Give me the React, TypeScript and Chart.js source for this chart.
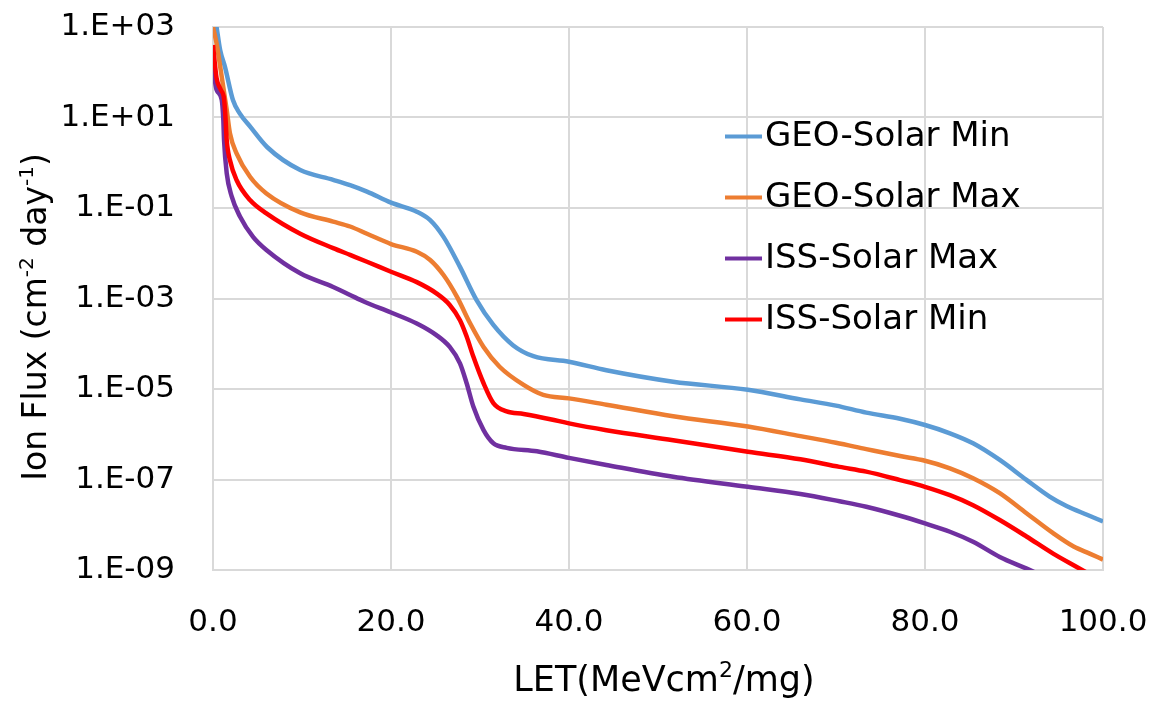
import React, { useEffect, useRef } from 'react';
import { Chart, registerables } from 'chart.js';

Chart.register(...registerables);

const FONT = '"DejaVu Sans", sans-serif';

// Series names and colours (legend order)
const SERIES_NAMES = ['GEO-Solar Min', 'GEO-Solar Max', 'ISS-Solar Max', 'ISS-Solar Min'];
const SERIES_COLORS = ['#5B9BD5', '#ED7D31', '#7030A0', '#FF0000'];

// Axis ticks
const X_TICKS = [0, 20, 40, 60, 80, 100];
const Y_TICK_EXPONENTS = [3, 1, -1, -3, -5, -7, -9];

// GEO-Solar Min
const X_GEO_MIN = [0, 0.4, 0.8, 1.35, 2.25, 3.0, 4.2, 6.1, 9.8, 13.5, 15.4, 17.3, 20, 22.9, 24.4, 25.9, 27.75, 29.6, 31.5, 33.7, 36, 40, 44.2, 51.7, 60.1, 66, 70, 73.4, 77.2, 80, 82.8, 85.4, 88.4, 91.4, 94, 95.9, 98.2, 100];
const Y_GEO_MIN = [3000, 1000, 310, 130, 24, 12.3, 6.2, 2.2, 0.69, 0.42, 0.32, 0.23, 0.131, 0.083, 0.054, 0.023, 0.005, 9.3e-4, 2.6e-4, 9.3e-5, 5.3e-5, 4.0e-5, 2.6e-5, 1.45e-5, 9.6e-6, 5.9e-6, 4.3e-6, 3.0e-6, 2.2e-6, 1.6e-6, 1.05e-6, 6.3e-7, 2.7e-7, 9.8e-8, 4.2e-8, 2.6e-8, 1.66e-8, 1.18e-8];

// GEO-Solar Max
const X_GEO_MAX = [0, 0.4, 0.98, 1.54, 1.9, 2.66, 4.16, 6, 9.8, 13.5, 15.4, 17.3, 20, 22.9, 24.4, 25.9, 27.4, 28.9, 30.4, 32.2, 34.9, 37.1, 40, 44.2, 51.7, 60.1, 66, 70, 73.4, 77.2, 80, 82.8, 85.4, 88.4, 91.4, 94.4, 96.7, 98.5, 100];
const Y_GEO_MAX = [1000, 435, 79, 14.7, 4.5, 1.6, 0.49, 0.21, 0.08, 0.05, 0.039, 0.027, 0.016, 0.0108, 0.0071, 0.0033, 0.0011, 2.8e-4, 8.5e-5, 3.1e-5, 1.23e-5, 7.4e-6, 6.2e-6, 4.5e-6, 2.5e-6, 1.48e-6, 9.1e-7, 6.5e-7, 4.7e-7, 3.3e-7, 2.6e-7, 1.77e-7, 1.07e-7, 5.0e-8, 1.8e-8, 6.5e-9, 3.3e-9, 2.3e-9, 1.7e-9];

// ISS-Solar Max
const X_ISS_MAX = [0, 0.4, 0.98, 1.16, 1.24, 1.54, 2.1, 3.03, 4.5, 6, 9.8, 13.5, 15.4, 17, 20, 22.9, 25.1, 26.6, 27.75, 28.5, 29.25, 30.4, 31.5, 33, 36.4, 40, 44.2, 51.7, 60.1, 66, 70.4, 73.4, 77.2, 80, 82.8, 85.4, 88.4, 92.2, 96, 100];
const Y_ISS_MAX = [130, 41, 24.5, 8.8, 3.2, 0.59, 0.18, 0.065, 0.023, 0.0118, 0.0036, 0.0018, 0.0012, 8.5e-4, 4.9e-4, 2.8e-4, 1.55e-4, 8.5e-5, 3.7e-5, 1.34e-5, 4.1e-6, 1.23e-6, 6.3e-7, 5.0e-7, 4.2e-7, 3.0e-7, 2.1e-7, 1.15e-7, 6.9e-8, 4.8e-8, 3.3e-8, 2.5e-8, 1.58e-8, 1.07e-8, 7.0e-9, 4.2e-9, 1.94e-9, 9.1e-10, 3.5e-10, 1.3e-10];

// ISS-Solar Min
const X_ISS_MIN = [0, 0.4, 0.87, 1.24, 1.38, 1.54, 1.9, 2.66, 4.16, 6, 9.8, 13.5, 15.4, 17.3, 20, 22.9, 25.1, 26.6, 27.75, 28.5, 29.25, 30.4, 31.5, 33, 34.9, 37.9, 40, 44.2, 51.7, 60.1, 66, 70.4, 73.4, 77.2, 80, 82.8, 85.4, 88.4, 91.4, 94.4, 97, 100];
const Y_ISS_MIN = [400, 74, 41, 26, 12, 3.2, 1.15, 0.41, 0.15, 0.076, 0.027, 0.013, 0.0092, 0.0065, 0.0039, 0.0023, 0.0013, 7.2e-4, 3.3e-4, 1.44e-4, 5.2e-5, 1.34e-5, 4.9e-6, 3.2e-6, 2.8e-6, 2.15e-6, 1.74e-6, 1.23e-6, 7.4e-7, 4.1e-7, 2.8e-7, 1.9e-7, 1.49e-7, 9.7e-8, 6.9e-8, 4.5e-8, 2.7e-8, 1.27e-8, 5.5e-9, 2.3e-9, 1.18e-9, 5.5e-10];

const SERIES_X = [X_GEO_MIN, X_GEO_MAX, X_ISS_MAX, X_ISS_MIN];
const SERIES_Y = [Y_GEO_MIN, Y_GEO_MAX, Y_ISS_MAX, Y_ISS_MIN];
const DRAW_ORDER = [3, 2, 1, 0];

const X_TITLE = [{ t: 'LET(MeVcm' }, { t: '2', sup: true }, { t: '/mg)' }];
const Y_TITLE = [{ t: 'Ion Flux (cm' }, { t: '-2', sup: true }, { t: ' day' }, { t: '-1', sup: true }, { t: ')' }];

type Part = { t: string; sup?: boolean };

function zip(xs: number[], ys: number[]) {
  return xs.map((x, i) => ({ x, y: ys[i] }));
}

function setFont(ctx: CanvasRenderingContext2D, size: number, sup?: boolean) {
  ctx.font = `${sup ? Math.round(size * 0.62) : size}px ${FONT}`;
}

function richWidth(ctx: CanvasRenderingContext2D, parts: Part[], size: number) {
  let w = 0;
  for (const p of parts) {
    setFont(ctx, size, p.sup);
    w += ctx.measureText(p.t).width;
  }
  return w;
}

function drawRich(ctx: CanvasRenderingContext2D, parts: Part[], size: number, cx: number, baseline: number) {
  const w = richWidth(ctx, parts, size);
  let x = cx - w / 2;
  ctx.textAlign = 'left';
  ctx.textBaseline = 'alphabetic';
  for (const p of parts) {
    setFont(ctx, size, p.sup);
    ctx.fillText(p.t, x, p.sup ? baseline - size * 0.4 : baseline);
    x += ctx.measureText(p.t).width;
  }
}

const overlayPlugin = {
  id: 'overlay',
  afterDraw(chart: any) {
    const ctx: CanvasRenderingContext2D = chart.ctx;
    const ca = chart.chartArea;
    ctx.save();
    ctx.fillStyle = '#000';
    // Legend inside plot area
    chart.data.datasets.forEach((ds: any, i: number) => {
      const y = 136.5 + i * 61;
      ctx.strokeStyle = ds.borderColor;
      ctx.lineWidth = 4;
      ctx.lineCap = 'butt';
      ctx.beginPath();
      ctx.moveTo(725, y);
      ctx.lineTo(762, y);
      ctx.stroke();
      ctx.font = `34px ${FONT}`;
      ctx.textAlign = 'left';
      ctx.textBaseline = 'middle';
      ctx.fillStyle = '#000';
      ctx.fillText(ds.label, 765, y + 1);
    });
    // X axis title
    drawRich(ctx, X_TITLE, 35, (ca.left + ca.right) / 2 + 6, 691);
    // Y axis title
    ctx.translate(46, 317);
    ctx.rotate(-Math.PI / 2);
    drawRich(ctx, Y_TITLE, 33, 0, 0);
    ctx.restore();
  },
};

function formatExp(v: number) {
  const e = Math.round(Math.log10(v));
  const s = e < 0 ? '-' : '+';
  return `1.E${s}${String(Math.abs(e)).padStart(2, '0')}`;
}

export default function App() {
  const ref = useRef<HTMLCanvasElement | null>(null);

  useEffect(() => {
    if (!ref.current) return;
    const chart = new Chart(ref.current, {
      type: 'line',
      data: {
        datasets: SERIES_NAMES.map((name, i) => ({
          label: name,
          data: zip(SERIES_X[i], SERIES_Y[i]),
          borderColor: SERIES_COLORS[i],
          backgroundColor: SERIES_COLORS[i],
          borderWidth: 4.5,
          pointRadius: 0,
          fill: false,
          cubicInterpolationMode: 'monotone',
          order: DRAW_ORDER[i],
          clip: 0,
        })),
      },
      options: {
        animation: false,
        responsive: false,
        maintainAspectRatio: false,
        layout: { padding: { top: 27, right: 53, left: 0, bottom: 0 } },
        plugins: {
          legend: { display: false },
          tooltip: { enabled: false },
        },
        scales: {
          x: {
            type: 'linear',
            min: 0,
            max: 100,
            afterBuildTicks: (scale: any) => {
              scale.ticks = X_TICKS.map((v) => ({ value: v }));
            },
            afterFit: (scale: any) => {
              scale.height = 131;
              scale.paddingLeft = 0;
              scale.paddingRight = 0;
            },
            ticks: {
              padding: 34,
              color: '#000',
              font: { family: FONT, size: 31 },
              maxRotation: 0,
              callback: (v: any) => Number(v).toFixed(1),
            },
            grid: { color: '#d9d9d9', lineWidth: 2, drawTicks: false },
            border: { color: '#d9d9d9', width: 2 },
          },
          y: {
            type: 'logarithmic',
            min: 1e-9,
            max: 1e3,
            afterBuildTicks: (scale: any) => {
              scale.ticks = Y_TICK_EXPONENTS.map((e) => ({ value: Math.pow(10, e) }));
            },
            afterFit: (scale: any) => {
              scale.width = 213;
              scale.paddingTop = 0;
              scale.paddingBottom = 0;
            },
            ticks: {
              padding: 38,
              color: '#000',
              font: { family: FONT, size: 31 },
              callback: (v: any) => formatExp(Number(v)),
            },
            grid: { color: '#d9d9d9', lineWidth: 2, drawTicks: false },
            border: { color: '#d9d9d9', width: 2 },
          },
        },
      },
      plugins: [overlayPlugin],
    } as any);
    return () => chart.destroy();
  }, []);

  return (
    <div style={{ position: 'absolute', left: 0, top: 0, width: 1156, height: 701, background: '#fff' }}>
      <canvas ref={ref} width={1156} height={701} style={{ display: 'block' }} />
    </div>
  );
}
